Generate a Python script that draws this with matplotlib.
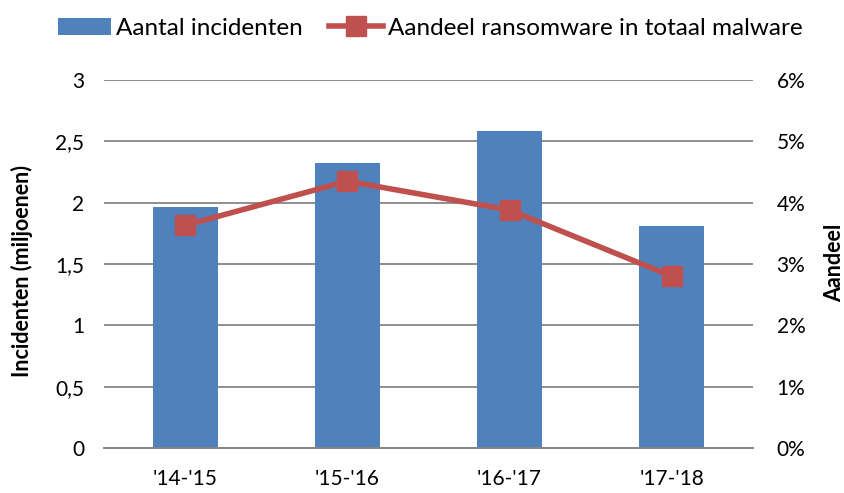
import matplotlib
matplotlib.use("Agg")
import matplotlib.pyplot as plt
import numpy as np
from matplotlib.ticker import FuncFormatter

# data
periods = ["'14-'15", "'15-'16", "'16-'17", "'17-'18"]
incidents = [1.965, 2.32, 2.58, 1.81]          # millions
ransom_share = [3.63, 4.35, 3.88, 2.80]        # percent

bar_color = "#4F81BD"
line_color = "#C0504D"
grid_color = "#868686"

plt.rcParams['font.family'] = ['Lato', 'DejaVu Sans']


def main():
    fig = plt.figure(figsize=(8.45, 4.93), dpi=100)
    ax = fig.add_axes([0.123, 0.0913, 0.768, 0.7465])
    ax2 = ax.twinx()

    x = np.arange(len(periods))
    bars = ax.bar(x, incidents, width=0.4, color=bar_color, zorder=2,
                  label="Aantal incidenten")
    line, = ax2.plot(x, ransom_share, color=line_color, lw=4, marker="s",
                     markersize=14, zorder=3,
                     label="Aandeel ransomware in totaal malware")

    ax.set_xlim(-0.5, len(periods) - 0.5)
    ax.set_ylim(0, 3)
    ax.set_yticks(np.arange(0, 3.01, 0.5))
    ax.yaxis.set_major_formatter(FuncFormatter(lambda v, p: ("%g" % v).replace(".", ",")))
    ax2.set_ylim(0, 6)
    ax2.set_yticks(np.arange(0, 7, 1))
    ax2.yaxis.set_major_formatter(FuncFormatter(lambda v, p: "%d%%" % v))

    ax.set_xticks(x)
    ax.set_xticklabels(periods)

    ax.grid(axis="y", color=grid_color, lw=1.3, zorder=0)
    ax.set_axisbelow(True)
    ax2.set_zorder(ax.get_zorder() + 1)
    ax2.patch.set_visible(False)

    for a in (ax, ax2):
        for s in ("top", "left", "right"):
            a.spines[s].set_visible(False)
        a.spines["bottom"].set_color(grid_color)
        a.spines["bottom"].set_linewidth(1.3)
        a.tick_params(length=0, labelsize=15, colors="black")
    ax.tick_params(axis="y", pad=14)
    ax.tick_params(axis="x", pad=15)
    ax2.tick_params(axis="y", pad=17)

    # axis titles placed as figure text to match the reference positions
    fig.text(22 / 845, 1 - 271 / 493, "Incidenten (miljoenen)", rotation=90,
             ha="center", va="center", fontsize=15.5, fontweight="bold")
    fig.text(835 / 845, 1 - 263 / 493, "Aandeel", rotation=90,
             ha="center", va="center", fontsize=15.5, fontweight="bold")

    fig.legend(handles=[bars, line], loc="upper center",
               bbox_to_anchor=(430 / 845, 1.008),
               ncol=2, frameon=False, fontsize=17.5, handlelength=2.2,
               handletextpad=0.2, columnspacing=1.1)

    fig.savefig("out.png", dpi=100)
    plt.close(fig)


if __name__ == '__main__':
    main()
